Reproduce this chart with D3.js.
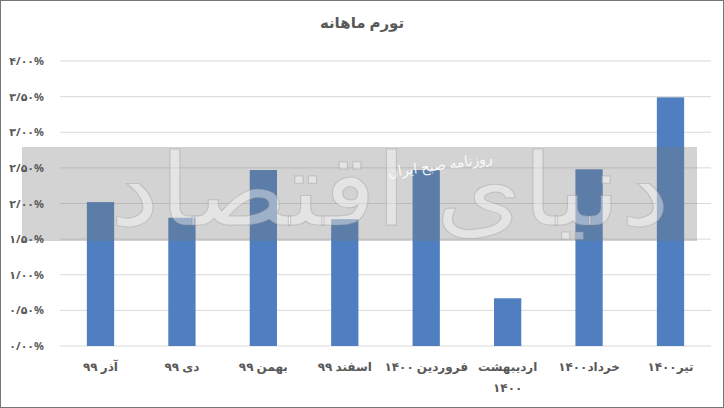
<!DOCTYPE html>
<html><head><meta charset="utf-8">
<script src="https://cdn.jsdelivr.net/npm/d3@7"></script>
<style>body{margin:0;background:#fff}svg{display:block;font-family:"Noto Sans","DejaVu Sans",sans-serif}</style>
</head><body><svg id="c" width="724" height="408"></svg>
<script>
const categories=[["آذر ۹۹"],["دی ۹۹"],["بهمن ۹۹"],["اسفند ۹۹"],["فروردین ۱۴۰۰"],["اردیبهشت","۱۴۰۰"],["خرداد۱۴۰۰"],["تیر۱۴۰۰"]];
const values=[2.02,1.80,2.47,1.78,2.47,0.67,2.48,3.49];
const ticks=[0,0.5,1,1.5,2,2.5,3,3.5,4];
const tickLabels=["۰/۰۰%","۰/۵۰%","۱/۰۰%","۱/۵۰%","۲/۰۰%","۲/۵۰%","۳/۰۰%","۳/۵۰%","۴/۰۰%"];
const title="تورم ماهانه";

const svg=d3.select("#c");
svg.append("rect").attr("x",0.5).attr("y",0.5).attr("width",723).attr("height",407).attr("fill","#fff").attr("stroke","#777");
const x=d3.scaleBand().domain(d3.range(categories.length)).range([60,711]).paddingInner(0.665).paddingOuter(0.33);
const y=d3.scaleLinear().domain([0,4]).range([346,61]);
svg.append("text").attr("x",362).attr("y",28).attr("text-anchor","middle").attr("font-size",15).attr("font-weight","bold").attr("fill","#595959").text(title);
svg.append("g").selectAll("line").data(ticks).join("line").attr("x1",60).attr("x2",711).attr("y1",d=>y(d)).attr("y2",d=>y(d)).attr("stroke","#d9d9d9");
svg.append("g").selectAll("rect").data(values).join("rect").attr("x",(d,i)=>x(i)).attr("width",x.bandwidth()).attr("y",d=>y(d)).attr("height",d=>y(0)-y(d)).attr("fill","#4f7fc1");
// watermark
svg.append("rect").attr("x",22).attr("y",147).attr("width",675).attr("height",94).attr("fill","rgba(120,120,120,0.33)");
svg.append("text").attr("x",440).attr("y",170).attr("text-anchor","middle").attr("font-size",14).attr("fill","rgba(255,255,255,0.9)").attr("transform","rotate(-8,440,165)").text("روزنامه صبح ایران");
svg.append("text").attr("x",390).attr("y",225).attr("text-anchor","middle").attr("font-size",100).attr("textLength",560).attr("lengthAdjust","spacingAndGlyphs").attr("fill","rgba(255,255,255,0.4)").attr("stroke","rgba(140,140,140,0.35)").text("دنیای اقتصاد");
svg.append("g").selectAll("text").data(ticks).join("text").attr("x",44).attr("y",d=>y(d)+4).attr("text-anchor","end").attr("font-size",11).attr("font-weight","bold").attr("fill","#595959").text((d,i)=>tickLabels[i]);
const xl=svg.append("g").selectAll("text").data(categories).join("text").attr("x",(d,i)=>x(i)+x.bandwidth()/2).attr("y",371).attr("text-anchor","middle").attr("font-size",12).attr("font-weight","bold").attr("fill","#595959");
xl.each(function(d){const t=d3.select(this);d.forEach((s,j)=>t.append("tspan").attr("x",t.attr("x")).attr("dy",j?21:0).text(s));});
</script></body></html>
